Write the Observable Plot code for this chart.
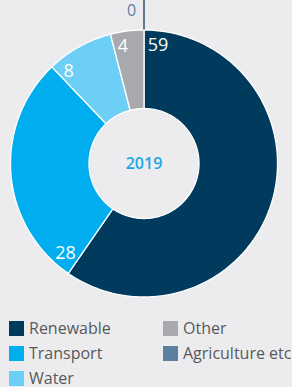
<!DOCTYPE html>
<html><head><meta charset="utf-8">
<script src="https://cdn.jsdelivr.net/npm/d3@7"></script>
<script src="https://cdn.jsdelivr.net/npm/@observablehq/plot@0.6"></script>
<style>
html,body{margin:0;padding:0;background:#ececee;}
body{width:292px;height:387px;overflow:hidden;position:relative;font-family:"Open Sans",sans-serif;}
#chart{position:absolute;left:0;top:0;}
.lg{position:absolute;display:flex;align-items:center;font-size:16px;color:#58595b;white-space:nowrap;line-height:15px;}
.lg span.sw{display:inline-block;width:15px;height:15px;margin-right:5px;}
</style></head><body>
<div id="chart"></div>
<div id="legend"></div>
<script>
const categories = ["Renewable", "Transport", "Water", "Other", "Agriculture etc"];
const values = [59, 28, 8, 4, 0];
const colors = ["#003a5d", "#00aeef", "#6dcff6", "#a7a9ac", "#5b7fa0"];
const centerLabel = "2019";

const W = 292, H = 310, cx = 143.5, cy = 163, R = 133.5, inner = 55 / R;

const pie = d3.pie().sort(null).value(d => d.value).startAngle(0).endAngle(2 * Math.PI);
const arcs = pie(categories.map((c, i) => ({cat: c, value: values[i]})));

// polygon points per slice (in unit-radius coordinates, y up)
const pts = [];
for (const a of arcs) {
  if (a.data.value <= 0) continue;
  const n = Math.max(2, Math.ceil((a.endAngle - a.startAngle) / (Math.PI / 180)));
  const ring = [];
  for (let k = 0; k <= n; k++) {
    const t = a.startAngle + (a.endAngle - a.startAngle) * k / n;
    ring.push({cat: a.data.cat, x: Math.sin(t), y: Math.cos(t)});
  }
  for (let k = n; k >= 0; k--) {
    const t = a.startAngle + (a.endAngle - a.startAngle) * k / n;
    ring.push({cat: a.data.cat, x: inner * Math.sin(t), y: inner * Math.cos(t)});
  }
  ring.push(ring[0]);
  pts.push(...ring);
}

// value labels, placed just clockwise of each slice start near the outer rim
const labR = 119 / R;
const labels = arcs.filter(a => a.data.value > 0).map(a => {
  const s = String(a.data.value);
  const t = a.startAngle + (5 * s.length + 4) / 119;
  return {text: s, x: labR * Math.sin(t), y: labR * Math.cos(t)};
});
const zeros = arcs.filter(a => a.data.value === 0).map(a => ({
  text: String(a.data.value), x: Math.sin(a.startAngle), y: Math.cos(a.startAngle)
}));

const chart = Plot.plot({
  width: W, height: H,
  margin: 0,
  style: {background: "transparent", fontFamily: "Open Sans, sans-serif", overflow: "visible"},
  x: {domain: [-1, 1], range: [cx - R, cx + R], axis: null},
  y: {domain: [-1, 1], range: [cy + R, cy - R], axis: null},
  color: {domain: categories, range: colors},
  marks: [
    Plot.line(pts, {x: "x", y: "y", z: "cat", fill: "cat", stroke: "#ffffff", strokeWidth: 1.3, curve: "linear"}),
    Plot.ruleX(zeros, {x: "x", y1: "y", y2: cy / R, stroke: "#34506b", strokeWidth: 1.5}),
    Plot.text(zeros, {x: "x", y: d => (cy - 10) / R, text: "text", dx: -12.5, fill: "#5b7fa0", fontSize: 16}),
    Plot.text(labels, {x: "x", y: "y", text: "text", fill: "#ffffff", fontSize: 18}),
    Plot.text([centerLabel], {x: () => 0, y: () => 0, text: d => d, fill: "#1aa8e6", fontSize: 16, fontWeight: 600})
  ]
});
document.getElementById("chart").appendChild(chart);

// legend
const legend = document.getElementById("legend");
const pos = [[9, 321], [9, 346], [9, 371], [163, 321], [163, 346]];
categories.forEach((c, i) => {
  const el = document.createElement("div");
  el.className = "lg";
  el.style.left = pos[i][0] + "px";
  el.style.top = pos[i][1] + "px";
  el.innerHTML = `<span class="sw" style="background:${colors[i]}"></span><span>${c}</span>`;
  legend.appendChild(el);
});
</script>
</body></html>
